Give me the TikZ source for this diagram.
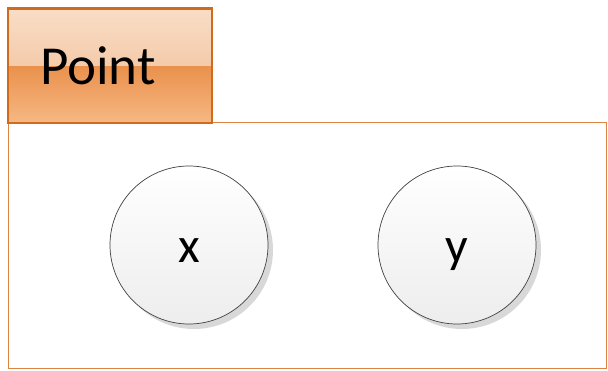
\documentclass[tikz,border=0pt]{standalone}
\usepackage{fontspec}
\setmainfont{Carlito}
\usetikzlibrary{shadows}

\definecolor{tabline}{HTML}{D06A1C}
\definecolor{boxline}{HTML}{DA8445}
\definecolor{tabtopA}{HTML}{F9DDC7}
\definecolor{tabtopB}{HTML}{EFB98E}
\definecolor{tabbotA}{HTML}{EA914C}
\definecolor{tabbotB}{HTML}{F6B884}

\begin{document}
\begin{tikzpicture}[x=1pt,y=-1pt,
        tab/.style={rectangle,draw=tabline,line width=1.6pt,inner xsep=32pt,inner ysep=0pt,
            text width=140pt,minimum height=114pt,align=left,
            font=\fontsize{55}{60}\selectfont,
            path picture={
                \fill[top color=tabtopA,bottom color=tabtopB]
                    (path picture bounding box.north west) rectangle (path picture bounding box.east);
                \fill[top color=tabbotA,bottom color=tabbotB]
                    (path picture bounding box.west) rectangle (path picture bounding box.south east);
            }},
        field/.style={circle,draw=black!75,line width=0.7pt,minimum size=158pt,inner sep=0pt,
            top color=white,bottom color=black!7,text height=34pt,text depth=0pt,
            drop shadow={shadow xshift=5pt,shadow yshift=-5pt,fill=black!30,opacity=0.5},
            font=\fontsize{50}{54}\selectfont}]
    \useasboundingbox (0,0) rectangle (608,370);

    % class frame
    \draw[boxline,line width=0.9pt] (8,122) rectangle (606.5,368.5);

    % title tab
    \node[tab] (point) at (110,66) {Point};
    \draw[tabline,line width=3pt] (point.north west) -- (point.north east);

    % members
    \node[field] (x) at (189,245) {x};
    \node[field] (y) at (457,245) {y};
\end{tikzpicture}
\end{document}
